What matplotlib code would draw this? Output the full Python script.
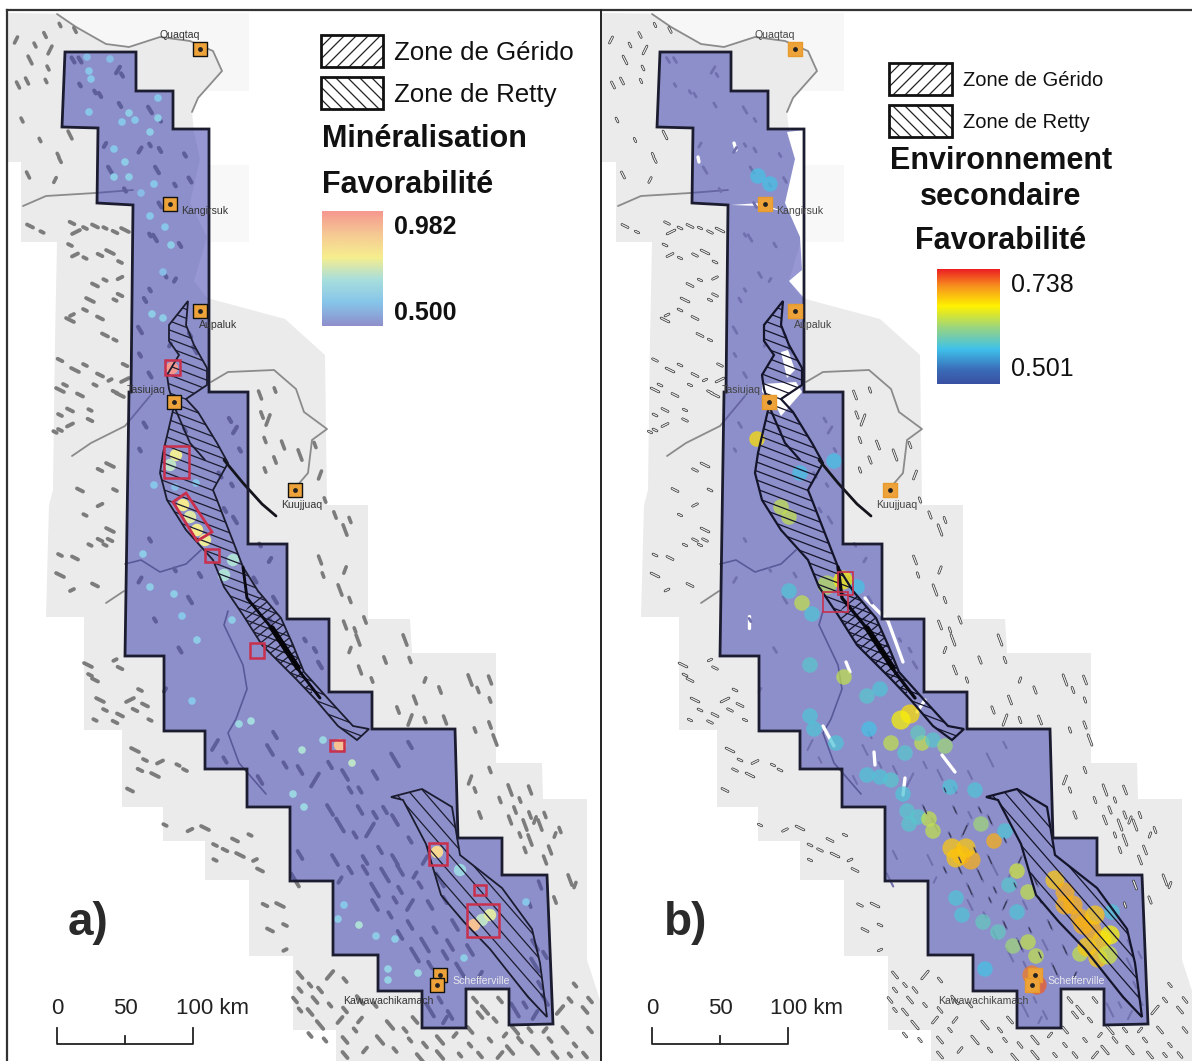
import numpy as np
import matplotlib
matplotlib.use('Agg')
import matplotlib.pyplot as plt
from matplotlib.collections import LineCollection
from matplotlib.colors import LinearSegmentedColormap
from matplotlib.patches import Polygon, Rectangle

plt.rcParams['font.family'] = ['Liberation Sans', 'DejaVu Sans']

PANEL_B = 595

study_area = [(65, 52), (136, 52), (136, 91), (173, 91), (173, 129), (209, 129), (209, 392), (248, 392),
              (248, 544), (287, 544), (287, 619), (329, 619), (329, 692), (372, 692), (372, 729), (455, 729),
              (458, 838), (502, 838), (502, 875), (547, 875), (553, 1024), (509, 1025), (509, 989), (466, 989),
              (466, 1028), (422, 1028), (422, 991), (378, 991), (378, 955), (333, 955), (333, 881), (290, 881),
              (290, 807), (247, 807), (247, 769), (205, 769), (205, 731), (164, 731), (164, 656), (125, 656),
              (129, 392), (131, 392), (133, 205), (97, 203), (98, 128), (62, 127)]

land = [(7, 13), (57, 14), (106, 44), (129, 47), (160, 37), (190, 41), (213, 51), (222, 71), (198, 98), (192, 112),
        (194, 132), (200, 159), (190, 203), (207, 237),
        (194, 281), (207, 298), (285, 319), (325, 355), (327, 505), (368, 505), (368, 619), (410, 619),
        (412, 653), (496, 653), (496, 763), (542, 763), (543, 799), (587, 799), (587, 960), (600, 1000),
        (600, 1061), (336, 1061), (336, 1030), (293, 1030), (293, 956), (249, 956), (249, 880), (205, 880),
        (205, 841), (163, 841), (163, 807), (122, 807), (122, 730), (84, 730), (84, 617), (46, 617), (49, 505),
        (53, 490), (55, 340), (57, 242), (21, 242), (21, 162), (7, 162)]

north_zone = [(188, 301), (169, 325), (169, 341), (179, 355), (167, 375), (169, 389), (174, 406), (163, 453),
              (160, 473), (167, 500), (186, 530), (213, 560), (224, 587), (243, 615), (262, 645), (296, 679),
              (315, 699), (338, 726), (357, 740), (369, 729), (353, 726), (331, 702), (304, 672), (293, 645),
              (281, 618), (258, 591), (243, 567), (217, 500), (213, 490), (228, 463), (217, 443), (198, 412),
              (186, 399), (207, 385), (207, 368), (194, 345), (186, 325)]
south_zone = [(391, 797), (422, 789), (452, 807), (460, 855), (502, 888), (532, 929), (540, 963), (547, 1017),
              (528, 997), (490, 949), (464, 922), (441, 895), (426, 844), (403, 800)]
cross_zone = [(243, 615), (262, 645), (296, 679), (315, 699), (304, 672), (293, 645), (281, 618), (258, 591)]

inner_line_1 = [(174, 406), (190, 443), (205, 460)]
inner_line_2 = [(243, 567), (247, 598), (274, 631), (300, 672), (320, 698)]
dark_core = [(272, 628), (285, 648), (298, 668)]
bay_tail = [(224, 460), (243, 483), (262, 504), (276, 516)]

coast_north = [(57, 14), (76, 27), (106, 44), (129, 47), (160, 37), (190, 41), (213, 51), (222, 71), (198, 98), (192, 112)]
coast_ungava = [(211, 382), (228, 372), (274, 370), (296, 389), (304, 412), (327, 429), (312, 440), (308, 473), (296, 487)]
river_west = [(23, 206), (46, 196), (95, 193), (133, 190)]
river_tasiujaq = [(72, 456), (91, 443), (125, 426), (150, 396)]
river_mid = [(106, 603), (124, 591)]
river_inner = [(125, 564), (141, 560), (160, 572), (186, 564), (201, 550)]
river_south = [(228, 611), (224, 625), (243, 665), (247, 689), (236, 719), (228, 733), (239, 763), (266, 794)]

# lakes, each group has its own stroke direction
lakes_land_north = [(27, 81), (46, 81), (45, 35), (50, 50), (48, 68), (28, 175), (58, 155), (60, 160), (70, 135),
                    (35, 45), (16, 40), (60, 25), (75, 30), (30, 60), (22, 120), (18, 85), (40, 140), (55, 180)]
lakes_land_west = [(30, 226), (42, 232), (72, 223), (76, 232), (85, 228), (95, 226), (105, 228), (115, 232),
                   (125, 230), (70, 245), (75, 255), (85, 258), (100, 255), (110, 252), (120, 262), (95, 285),
                   (105, 280), (120, 278), (90, 300), (85, 310), (100, 318), (115, 300), (120, 295), (70, 320),
                   (72, 315), (105, 335), (115, 340), (60, 360), (75, 370), (85, 365), (100, 375), (110, 380),
                   (125, 365), (60, 390), (65, 385), (80, 395), (95, 385), (115, 392), (125, 380), (60, 415),
                   (70, 410), (90, 410), (90, 420), (120, 395), (60, 430), (70, 425), (55, 432), (100, 470),
                   (110, 465), (115, 490), (80, 490), (85, 515), (100, 505), (110, 530), (60, 555), (75, 558),
                   (90, 545), (100, 540), (60, 575), (72, 590), (95, 585), (105, 545), (110, 540), (88, 665),
                   (90, 675), (95, 680), (115, 660), (120, 668), (100, 700), (105, 710), (120, 715), (95, 720),
                   (115, 722), (130, 700), (140, 690), (145, 705), (150, 720), (135, 710), (135, 750), (145, 760),
                   (160, 762), (178, 765), (140, 770), (155, 775), (185, 770), (130, 790), (165, 825), (190, 830),
                   (205, 828), (215, 845), (235, 840), (250, 835), (225, 850), (240, 855), (255, 860), (260, 870),
                   (215, 860), (265, 905), (280, 905), (285, 925), (270, 930), (285, 950)]
lakes_land_east = [(260, 395), (275, 390), (262, 415), (268, 420), (265, 440), (283, 445), (265, 470), (275, 460),
                   (300, 455), (315, 445), (320, 475), (325, 500), (335, 515), (345, 530), (350, 520), (320, 560),
                   (323, 575), (345, 570), (340, 590), (350, 600), (345, 625), (355, 630), (365, 620), (358, 640),
                   (350, 650), (360, 670), (372, 680), (385, 660), (405, 640), (410, 660), (415, 700), (425, 680),
                   (440, 690), (470, 680), (478, 690), (490, 680), (490, 700), (398, 710), (410, 720), (425, 720),
                   (445, 720), (475, 730), (490, 725), (495, 740), (490, 770), (470, 780), (475, 790), (480, 815),
                   (510, 790), (500, 800), (530, 790), (520, 800), (535, 820), (530, 840), (560, 830), (540, 885),
                   (530, 905), (555, 900), (570, 880), (575, 885), (510, 820), (520, 835), (530, 815), (540, 825),
                   (525, 850), (545, 860), (555, 835), (515, 810), (525, 825), (545, 815), (550, 850)]
lakes_land_south = [(300, 975), (310, 985), (320, 990), (330, 975), (345, 980), (315, 1000), (330, 1005), (345, 1010),
                    (360, 1000), (375, 1005), (340, 1020), (300, 1010), (295, 1000), (320, 1025), (310, 1035),
                    (345, 1040), (355, 1030), (365, 1050), (380, 1040), (395, 1050), (345, 1055), (410, 1040),
                    (425, 1045), (440, 1040), (455, 1035), (470, 1030), (490, 1040), (475, 1000), (485, 1010),
                    (495, 1020), (480, 1015), (505, 1035), (520, 1040), (535, 1050), (550, 1040), (565, 1030),
                    (575, 1045), (585, 1055), (560, 1010), (570, 1000), (585, 1010), (575, 985), (590, 1030),
                    (510, 1050), (530, 1030), (500, 1055), (460, 1055), (480, 1055), (420, 1058), (300, 990),
                    (310, 1012), (325, 1040), (360, 1020), (390, 1025), (405, 1030), (415, 1020), (470, 1045),
                    (500, 1000), (515, 1030), (545, 1030), (555, 1055), (570, 1055), (590, 1000), (440, 1055)]
lakes_study_north = [(73, 60), (80, 85), (100, 95), (118, 70), (122, 75), (80, 60), (95, 92), (120, 105), (150, 110),
                     (160, 120), (140, 150), (150, 145), (160, 150), (157, 170), (185, 155), (190, 180), (175, 185),
                     (105, 145), (110, 170), (125, 190), (160, 205), (150, 235), (180, 245), (155, 238), (175, 280),
                     (165, 275), (150, 290), (145, 300), (140, 330), (140, 355), (150, 375), (170, 345), (190, 335),
                     (195, 350), (185, 430), (145, 425), (140, 450), (230, 420), (235, 430), (240, 450), (220, 475),
                     (232, 485), (225, 510), (235, 520), (150, 540), (140, 580), (175, 570), (200, 575), (190, 600),
                     (155, 620), (180, 650), (260, 545), (270, 560), (275, 600), (270, 620), (255, 580), (305, 640),
                     (315, 650), (320, 665), (165, 690)]
lakes_study_south = [(330, 810), (350, 790), (360, 810), (370, 830), (380, 850), (395, 860), (355, 835), (365, 860),
                     (385, 875), (400, 890), (410, 905), (395, 900), (410, 925), (425, 945), (385, 810), (395, 820),
                     (410, 840), (425, 860), (440, 880), (445, 900), (455, 925), (435, 930), (445, 955), (460, 970),
                     (480, 975), (470, 950), (420, 885), (365, 870), (375, 890), (350, 870), (335, 860), (340, 880),
                     (300, 855), (295, 880), (275, 735), (270, 750), (285, 765), (300, 770), (315, 780), (330, 765),
                     (345, 775), (360, 790), (375, 775), (395, 760), (410, 745), (215, 745), (225, 760), (260, 780),
                     (535, 965), (540, 985), (545, 1000), (525, 1005), (535, 1015), (515, 1010), (545, 955), (535, 945),
                     (440, 1000), (450, 1015), (430, 1010), (445, 1020), (375, 905), (390, 915), (400, 935), (415, 955),
                     (430, 965), (400, 870), (415, 875), (430, 905), (340, 825), (375, 815), (450, 945), (435, 985)]

towns = ['Quaqtaq', 'Kangirsuk', 'Aupaluk', 'Tasiujaq', 'Kuujjuaq', 'Schefferville', 'Kawawachikamach']
town_x = [200, 170, 200, 174, 295, 440, 437]
town_y = [49, 204, 311, 402, 490, 975, 985]
town_label_x = [180, 205, 218, 146, 302, 481, 388]
town_label_y = [35, 211, 325, 390, 505, 981, 1001]

# panel a, favourability spots
min_x = [87, 110, 89, 91, 89, 122, 129, 135, 158, 158, 150, 125, 114, 114, 129, 154, 141, 150, 171, 165, 163, 152, 163,
         154, 175, 196, 143, 150, 174, 182, 232, 197, 192, 239, 251, 302, 352, 293, 304, 344, 359, 338, 388, 388,
         418, 376, 395, 464, 526, 323]
min_y = [57, 59, 71, 79, 112, 122, 113, 120, 98, 118, 132, 162, 149, 177, 177, 184, 193, 216, 245, 227, 272, 314, 318,
         485, 487, 483, 554, 587, 594, 616, 620, 640, 701, 724, 721, 750, 763, 794, 807, 905, 925, 919, 969, 980,
         973, 936, 939, 958, 902, 740]
min_val = [0.58, 0.58, 0.6, 0.6, 0.6, 0.6, 0.62, 0.6, 0.6, 0.62, 0.62, 0.62, 0.6, 0.62, 0.62, 0.6, 0.58, 0.6, 0.62, 0.6,
           0.58, 0.62, 0.62, 0.6, 0.58, 0.6, 0.62, 0.62, 0.62, 0.6, 0.62, 0.62, 0.6, 0.66, 0.68, 0.7, 0.72, 0.66, 0.66,
           0.6, 0.7, 0.62, 0.64, 0.64, 0.66, 0.62, 0.62, 0.62, 0.6, 0.66]
min_hot_x = [176, 170, 183, 190, 197, 205, 172, 224, 233, 340, 437, 460, 482, 474, 490]
min_hot_y = [455, 465, 505, 517, 530, 540, 368, 575, 560, 745, 852, 870, 920, 925, 915]
min_hot_val = [0.78, 0.72, 0.8, 0.76, 0.8, 0.78, 0.98, 0.7, 0.7, 0.9, 0.85, 0.66, 0.72, 0.9, 0.76]

# panel b, favourability spots
env_x = [194, 207, 217, 215, 249, 272, 285, 215, 219, 241, 274, 296, 310, 327, 323, 338, 350, 272, 296, 285, 308, 312,
         323, 334, 338, 314, 355, 380, 399, 386, 410, 422, 433, 414, 361, 367, 388, 403, 422, 418, 433, 441, 390, 485,
         517, 262, 163, 175, 239, 205, 186, 194, 162]
env_y = [591, 603, 614, 665, 677, 696, 689, 716, 729, 743, 729, 743, 753, 743, 733, 740, 746, 775, 780, 777, 794, 811,
         817, 819, 831, 824, 787, 790, 841, 824, 831, 871, 892, 885, 898, 915, 922, 932, 912, 946, 942, 956, 969, 954,
         912, 587, 176, 184, 461, 473, 507, 517, 439]
env_val = [0.58, 0.635, 0.58, 0.585, 0.635, 0.585, 0.58, 0.58, 0.58, 0.58, 0.575, 0.635, 0.585, 0.635, 0.59, 0.585,
           0.62, 0.58, 0.585, 0.58, 0.58, 0.585, 0.585, 0.635, 0.635, 0.585, 0.58, 0.58, 0.69, 0.62, 0.58, 0.64, 0.635,
           0.585, 0.58, 0.58, 0.59, 0.59, 0.58, 0.62, 0.635, 0.635, 0.575, 0.635, 0.58, 0.575, 0.575, 0.575, 0.575,
           0.575, 0.635, 0.635, 0.67]
env_hot_x = [357, 366, 376, 315, 306, 460, 470, 478, 485, 497, 507, 492, 503, 437, 442, 232, 248, 470, 488, 500, 515,
             513, 361, 371]
env_hot_y = [848, 855, 860, 714, 720, 880, 892, 905, 918, 930, 940, 947, 958, 975, 985, 585, 580, 905, 925, 915, 935,
             955, 858, 848]
env_hot_val = [0.68, 0.69, 0.69, 0.67, 0.66, 0.68, 0.69, 0.69, 0.69, 0.69, 0.68, 0.68, 0.68, 0.71, 0.72, 0.63, 0.66,
               0.69, 0.69, 0.68, 0.66, 0.64, 0.68, 0.68]

white_coast = [(192, 132), (209, 130), (209, 298), (194, 281), (207, 270), (205, 237), (190, 203), (200, 159)]
white_bay = [(167, 384), (201, 382), (207, 392), (186, 416), (179, 402), (167, 392)]
white_bay_2 = [(186, 352), (192, 378), (200, 370), (193, 350)]
white_inlet = [(136, 205), (165, 203), (190, 212), (165, 206)]
white_streaks = [[(270, 598), (293, 621), (308, 662)], [(251, 662), (255, 672)], [(228, 726), (239, 746)],
                 [(154, 616), (154, 628)], [(279, 752), (280, 765)], [(347, 755), (360, 772)], [(310, 778), (308, 795)],
                 [(139, 143), (141, 150)], [(103, 157), (104, 162)], [(330, 700), (322, 712)]]

# red squares of panel a (x0, y0, x1, y1)
red_boxes = [(164, 446, 189, 478), (165, 360, 180, 375), (205, 549, 219, 562), (250, 643, 264, 658),
             (330, 740, 344, 751), (429, 843, 447, 865), (474, 885, 486, 895), (467, 904, 499, 937)]
red_slanted = [(186, 493), (173, 502), (197, 541), (212, 532)]
red_boxes_b = [(243, 572, 258, 595), (228, 592, 253, 612)]

cmap_min = LinearSegmentedColormap.from_list('min', ['#8f8fcb', '#86c5ea', '#a8dedd', '#f6ee8e', '#f6c994', '#f5988f'])
cmap_env = LinearSegmentedColormap.from_list('env', [(0, '#3a50a2'), (0.12, '#3a6cb8'), (0.3, '#3fc1ea'), (0.5, '#9fd67a'),
                                                     (0.68, '#fff200'), (0.85, '#f7941d'), (1, '#ed2024')])

NAVY = '#1c1c30'
STROKE_SCALE = [1.0, 0.55, 0.8, 1.3, 0.65]


def scale_hatch(ax, pts, slope, spacing, color, lw):
    # straight hatch lines cut by the polygon
    pts = np.array(pts, dtype=float)
    clip = Polygon(pts, closed=True, fill=False, lw=0)
    ax.add_patch(clip)
    x0, x1 = pts[:, 0].min() - 5, pts[:, 0].max() + 5
    c = pts[:, 1] - slope * pts[:, 0]
    segs = [[(x0, slope * x0 + k), (x1, slope * x1 + k)] for k in np.arange(c.min(), c.max(), spacing)]
    lc = LineCollection(segs, colors=color, linewidths=lw, zorder=4)
    ax.add_collection(lc)
    lc.set_clip_path(clip)


def line(ax, pts, off, **kw):
    pts = np.array(pts, dtype=float)
    ax.plot(pts[:, 0] + off, pts[:, 1], solid_capstyle='round', **kw)


def strokes(ax, pts, off, dx, dy, color, lw, zorder=2):
    # lakes are short strokes, length and lean change along the list so they do not look stamped
    segs = []
    for i, (x, y) in enumerate(pts):
        k = STROKE_SCALE[i % 5]
        ex = -dx if i % 7 == 3 else dx
        segs.append([(x + off - ex * k, y - dy * k), (x + off + ex * k, y + dy * k)])
    ax.add_collection(LineCollection(segs, colors=color, linewidths=lw, capstyle='round', zorder=zorder))


def base_map(ax, off):
    ax.add_patch(Rectangle((7 + off, 13), 242, 78, fc='#f7f7f7', ec='none', zorder=0))
    ax.add_patch(Rectangle((209 + off, 165), 40, 77, fc='#f8f8f8', ec='none', zorder=0))
    ax.add_patch(Polygon(np.array(land) + [off, 0], closed=True, fc='#ebebeb', ec='none', zorder=0))
    for pts in (coast_north, coast_ungava, river_west, river_tasiujaq, river_mid):
        line(ax, pts, off, color='#8b8b8b', lw=1.3, zorder=1)
    for pts in (river_inner, river_south):
        line(ax, pts, off, color='#6f6f78', lw=1.2, zorder=1)


def overlay(ax, off):
    ax.add_patch(Polygon(np.array(study_area) + [off, 0], closed=True, fc=(71 / 255, 73 / 255, 178 / 255, 0.57),
                         ec='none', zorder=3))


def zones(ax, off, lw, color):
    scale_hatch(ax, np.array(north_zone) + [off, 0], 0.38, 9, color, 0.9)
    scale_hatch(ax, np.array(cross_zone) + [off, 0], -0.8, 9, color, 0.9)
    scale_hatch(ax, np.array(south_zone) + [off, 0], 1.15, 17, color, 0.9)
    for pts in (north_zone, south_zone):
        ax.add_patch(Polygon(np.array(pts) + [off, 0], closed=True, fill=False, ec=color, lw=lw, zorder=5))
    line(ax, inner_line_1, off, color=color, lw=lw, zorder=5)
    line(ax, inner_line_2, off, color='#0a0a14', lw=lw + 0.8, zorder=5)
    line(ax, dark_core, off, color='#05050a', lw=4.0, zorder=5)
    line(ax, bay_tail, off, color='#14141c', lw=2.0, zorder=5)
    ax.add_patch(Polygon(np.array(study_area) + [off, 0], closed=True, fill=False, ec=NAVY, lw=2.0, zorder=6))


def town_marks(ax, off, edge, label_color):
    ax.scatter(np.array(town_x) + off, town_y, s=95, marker='s', c='#eda33a', edgecolors=edge, linewidths=1.0, zorder=7)
    ax.scatter(np.array(town_x) + off, town_y, s=6, marker='o', c='#222222', zorder=8)
    for name, x, y in zip(towns, town_label_x, town_label_y):
        col = '#e8e8ee' if name == 'Schefferville' else label_color
        ax.text(x + off, y, name, fontsize=7.6, color=col, ha='center', va='center', zorder=8)


def scale_bar(ax, off):
    ax.plot(np.array([57, 57, 193, 193]) + off, [1028, 1044, 1044, 1028], color='#222222', lw=1.3, zorder=8)
    ax.plot(np.array([125, 125]) + off, [1036, 1044], color='#222222', lw=1.3, zorder=8)
    for x, s in zip([57, 125, 212], ['0', '50', '100 km']):
        ax.text(x + off, 1008, s, fontsize=16, ha='center', va='center', color='#222222')


def legend_box(ax, x0, y0, x1, y1, slope):
    pts = [(x0, y0), (x1, y0), (x1, y1), (x0, y1)]
    scale_hatch(ax, pts, slope, 12, '#222222', 0.9)
    ax.add_patch(Rectangle((x0, y0), x1 - x0, y1 - y0, fill=False, ec='#111111', lw=2.0, zorder=5))


fig = plt.figure(figsize=(11.92, 10.61), dpi=100)
ax = fig.add_axes([0, 0, 1, 1])
ax.set_xlim(0, 1192)
ax.set_ylim(1061, 0)
ax.axis('off')

# panel a
base_map(ax, 0)
strokes(ax, lakes_land_north, 0, 1.5, 3, '#7c7c7c', 2.6)
strokes(ax, lakes_land_west, 0, 3, 1.5, '#7c7c7c', 2.8)
strokes(ax, lakes_land_east, 0, 1.5, 4, '#7c7c7c', 2.6)
strokes(ax, lakes_land_south, 0, 2.5, 3, '#7c7c7c', 2.8)
strokes(ax, lakes_study_north, 0, 1.5, 2.5, '#7c7c7c', 3.0)
strokes(ax, lakes_study_south, 0, 3, 5, '#7c7c7c', 2.8)
overlay(ax, 0)
ax.scatter(min_x, min_y, s=30, c=min_val, cmap=cmap_min, vmin=0.5, vmax=0.982, edgecolors='none', zorder=3.5)
ax.scatter(min_hot_x, min_hot_y, s=80, c=min_hot_val, cmap=cmap_min, vmin=0.5, vmax=0.982, edgecolors='none', zorder=3.5)
zones(ax, 0, 1.3, NAVY)
for x0, y0, x1, y1 in red_boxes:
    ax.add_patch(Rectangle((x0, y0), x1 - x0, y1 - y0, fill=False, ec='#c9304c', lw=1.8, zorder=6.5))
ax.add_patch(Polygon(red_slanted, closed=True, fill=False, ec='#c9304c', lw=2.0, zorder=6.5))
town_marks(ax, 0, '#111111', '#333333')
scale_bar(ax, 0)
ax.text(88, 923, 'a)', fontsize=33, fontweight='bold', color='#2a2a2a', ha='center', va='center')

legend_box(ax, 321, 35, 383, 67, -1.0)
legend_box(ax, 321, 77, 383, 109, 1.0)
ax.text(394, 53, 'Zone de Gérido', fontsize=18.6, va='center', color='#111111')
ax.text(394, 95, 'Zone de Retty', fontsize=18.6, va='center', color='#111111')
ax.text(322, 139, 'Minéralisation', fontsize=22, fontweight='bold', va='center', color='#111111')
ax.text(322, 185, 'Favorabilité', fontsize=22, fontweight='bold', va='center', color='#111111')
gradient = np.linspace(1, 0, 128).reshape(-1, 1)
ax.imshow(gradient, cmap=cmap_min, extent=(322, 383, 326, 211), aspect='auto', zorder=3)
ax.text(394, 227, '0.982', fontsize=18, fontweight='bold', va='center', color='#111111')
ax.text(394, 313, '0.500', fontsize=18, fontweight='bold', va='center', color='#111111')

# panel b
off = PANEL_B
base_map(ax, off)
overlay(ax, off)
for pts in (white_coast, white_bay, white_bay_2, white_inlet):
    ax.add_patch(Polygon(np.array(pts) + [off, 0], closed=True, fc='white', ec='none', zorder=3.2))
for pts in white_streaks:
    line(ax, pts, off, color='white', lw=2.4, zorder=3.2)
strokes(ax, lakes_study_north, off, 1.5, 2.5, '#6f70ad', 2.0, zorder=3.3)
strokes(ax, lakes_study_south, off, 2.5, 5, '#6f70ad', 1.5, zorder=3.3)
ax.scatter(np.array(env_x) + off, env_y, s=125, c=env_val, cmap=cmap_env, vmin=0.501, vmax=0.738, alpha=0.72,
           edgecolors='none', zorder=3.4)
ax.scatter(np.array(env_hot_x) + off, env_hot_y, s=190, c=env_hot_val, cmap=cmap_env, vmin=0.501, vmax=0.738, alpha=0.72,
           edgecolors='none', zorder=3.4)
for group, dx, dy in ((lakes_land_north, 1.5, 3), (lakes_land_west, 3, 1.5), (lakes_land_east, 1.5, 4), (lakes_land_south, 2.5, 3)):
    strokes(ax, group, off, dx, dy, '#2a2a2a', 1.9, zorder=3.5)
    strokes(ax, group, off, dx, dy, '#ededed', 0.9, zorder=3.6)
strokes(ax, lakes_study_south[:30], off, 1.5, 3.5, '#3a3a55', 0.9, zorder=3.6)
zones(ax, off, 1.6, '#14142a')
for x0, y0, x1, y1 in red_boxes_b:
    ax.add_patch(Rectangle((x0 + off, y0), x1 - x0, y1 - y0, fill=False, ec='#c9304c', lw=1.2, zorder=6.5))
town_marks(ax, off, '#e89a2c', '#444444')
scale_bar(ax, off)
ax.text(88 + off + 3, 923, 'b)', fontsize=33, fontweight='bold', color='#2a2a2a', ha='center', va='center')

legend_box(ax, 889, 63, 952, 95, -1.0)
legend_box(ax, 889, 105, 952, 137, 1.0)
ax.text(963, 80, 'Zone de Gérido', fontsize=14.5, va='center', color='#111111')
ax.text(963, 122, 'Zone de Retty', fontsize=14.5, va='center', color='#111111')
ax.text(1001, 161, 'Environnement', fontsize=22, fontweight='bold', ha='center', va='center', color='#111111')
ax.text(1001, 197, 'secondaire', fontsize=22, fontweight='bold', ha='center', va='center', color='#111111')
ax.text(1001, 241, 'Favorabilité', fontsize=22, fontweight='bold', ha='center', va='center', color='#111111')
ax.imshow(gradient, cmap=cmap_env, extent=(937, 1000, 384, 269), aspect='auto', zorder=3)
ax.text(1011, 285, '0.738', fontsize=18, va='center', color='#111111')
ax.text(1011, 369, '0.501', fontsize=18, va='center', color='#111111')

# frame
ax.plot([7, 1192], [10, 10], color='#333333', lw=1.6, zorder=9)
ax.plot([7, 7], [10, 1061], color='#333333', lw=1.6, zorder=9)
ax.plot([601, 601], [10, 1061], color='#222222', lw=1.4, zorder=9)

ax.set_xlim(0, 1192)
ax.set_ylim(1061, 0)
fig.savefig('out.png', dpi=100)
